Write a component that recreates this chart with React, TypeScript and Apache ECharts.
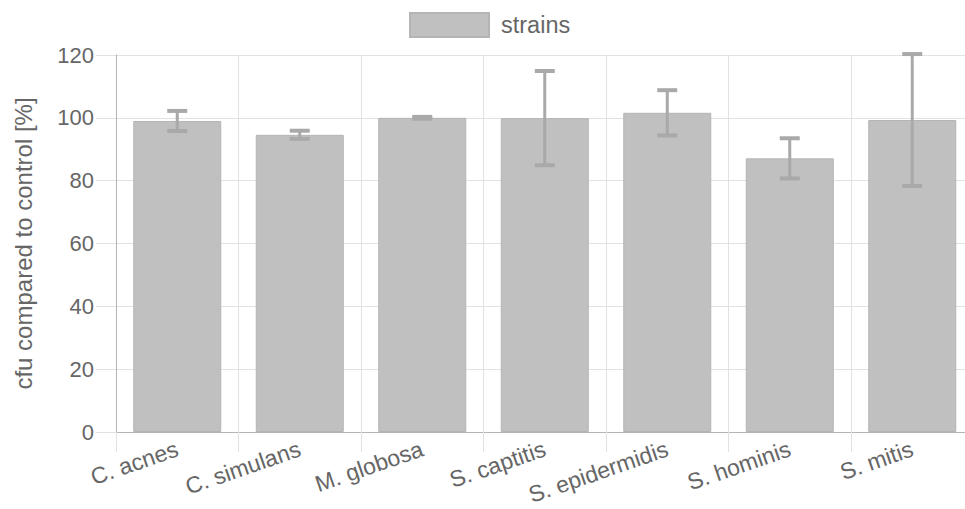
import React, { useEffect, useRef } from "react";
import * as echarts from "echarts";

const categories = [
  "C. acnes",
  "C. simulans",
  "M. globosa",
  "S. captitis",
  "S. epidermidis",
  "S. hominis",
  "S. mitis",
];
const means = [99.0, 94.6, 100.0, 99.9, 101.6, 87.1, 99.3];
const errors = [3.2, 1.3, 0.3, 15.0, 7.2, 6.4, 21.0];
const yMin = 0;
const yMax = 120;
const yStep = 20;
const seriesName = "strains";
const yAxisName = "cfu compared to control [%]";

const FONT = "'Liberation Sans', Arial, sans-serif";
const TEXT = "#666666";

// the plot of the original continues past the right edge of the picture
const GRID_LEFT = 116;
const CHART_W = 965;
const CAT_W = 122.5;
const X_MAX = -0.5 + (CHART_W - GRID_LEFT) / CAT_W;

export default function App() {
  const ref = useRef<HTMLDivElement>(null);
  useEffect(() => {
    if (!ref.current) return;
    const chart = echarts.init(ref.current, undefined, { renderer: "svg" });
    const idx = categories.map((_, i) => i);
    const bounds = categories.map((_, i) => i - 0.5);
    const barData = means.map((m, i) => [i, m]);
    const errData = means.map((m, i) => [i, m - errors[i], m + errors[i]]);
    chart.setOption({
      animation: false,
      textStyle: { fontFamily: FONT },
      legend: {
        data: [seriesName],
        left: 409,
        top: 12,
        padding: 0,
        itemWidth: 79,
        itemHeight: 24,
        icon: "rect",
        textStyle: { color: TEXT, fontSize: 23.5, fontFamily: FONT, padding: [0, 0, 0, 7] },
      },
      grid: { left: GRID_LEFT, right: 0, top: 55, height: 377 },
      xAxis: {
        type: "value",
        min: -0.5,
        max: X_MAX,
        axisLine: { show: true, onZero: false, lineStyle: { color: "#b3b3b3", width: 1 } },
        axisTick: { show: true, length: 20, customValues: bounds, lineStyle: { color: "#e2e2e2" } },
        splitLine: { show: true, lineStyle: { color: "#e2e2e2", width: 1 } },
        axisLabel: {
          customValues: idx,
          formatter: (v: number) => categories[Math.round(v)] ?? "",
          rotate: 19,
          margin: 16,
          color: TEXT,
          fontSize: 23,
          fontFamily: FONT,
          showMinLabel: true,
          showMaxLabel: true,
        },
      },
      yAxis: {
        type: "value",
        min: yMin,
        max: yMax,
        interval: yStep,
        name: yAxisName,
        nameLocation: "middle",
        nameGap: 81,
        nameTextStyle: { color: TEXT, fontSize: 24, fontFamily: FONT },
        axisLine: { show: true, onZero: false, lineStyle: { color: "#b3b3b3", width: 1 } },
        axisTick: { show: true, length: 20, lineStyle: { color: "#e2e2e2" } },
        splitLine: { show: true, lineStyle: { color: "#e2e2e2", width: 1 } },
        axisLabel: { color: TEXT, fontSize: 22, fontFamily: FONT, margin: 22 },
      },
      series: [
        {
          name: seriesName,
          type: "bar",
          data: barData,
          barWidth: 88,
          itemStyle: { color: "#c0c0c0", borderColor: "#b4b4b4", borderWidth: 1 },
          z: 2,
        },
        {
          name: "err",
          type: "custom",
          data: errData,
          encode: { x: 0, y: [1, 2] },
          z: 3,
          renderItem: (params: any, api: any) => {
            const x = api.value(0);
            const lo = api.value(1);
            const hi = api.value(2);
            const pHi = api.coord([x, hi]);
            const pLo = api.coord([x, lo]);
            const half = 10;
            const stroke = "#a9a9a9";
            return {
              type: "group",
              children: [
                {
                  type: "line",
                  shape: { x1: pHi[0], y1: pHi[1], x2: pLo[0], y2: pLo[1] },
                  style: { stroke, lineWidth: 3 },
                },
                {
                  type: "line",
                  shape: { x1: pHi[0] - half, y1: pHi[1], x2: pHi[0] + half, y2: pHi[1] },
                  style: { stroke, lineWidth: 4 },
                },
                {
                  type: "line",
                  shape: { x1: pLo[0] - half, y1: pLo[1], x2: pLo[0] + half, y2: pLo[1] },
                  style: { stroke, lineWidth: 4 },
                },
              ],
            };
          },
        },
      ],
    });
    return () => chart.dispose();
  }, []);
  return (
    <div
      ref={ref}
      style={{ position: "fixed", left: 0, top: 0, width: CHART_W, height: 509, background: "#fff" }}
    />
  );
}
